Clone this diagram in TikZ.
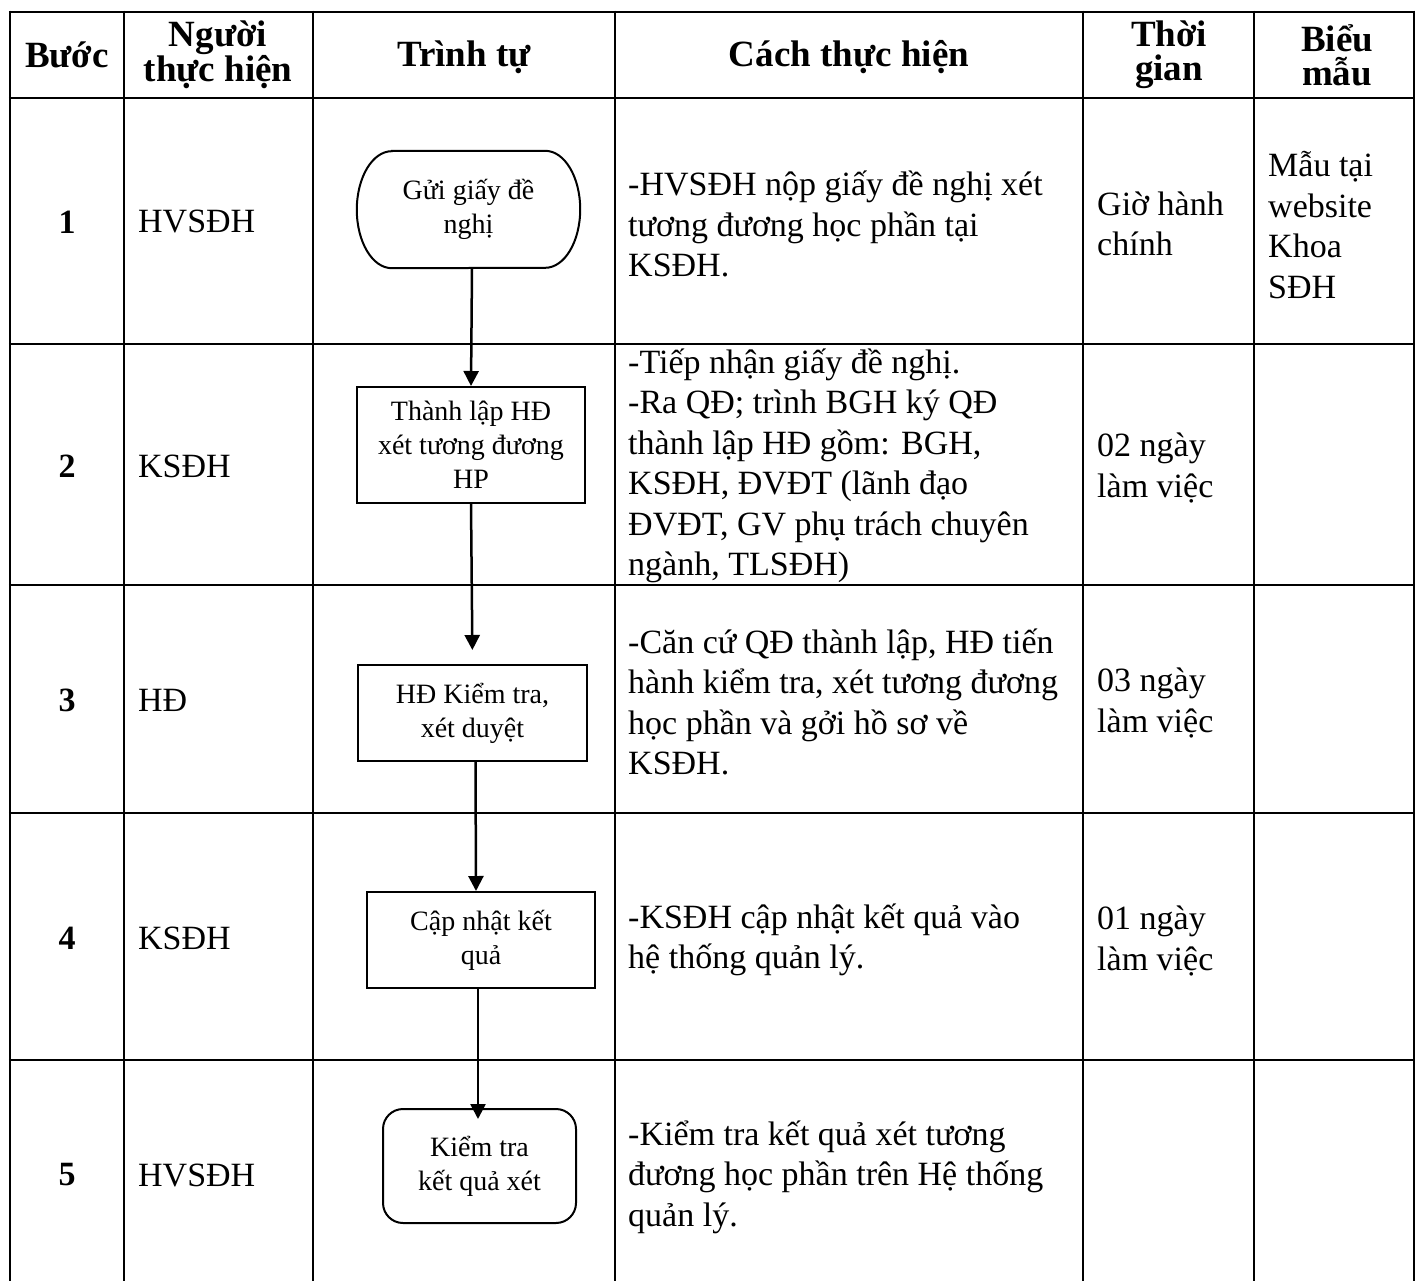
\documentclass[tikz,border=0pt]{standalone}
\usepackage{fontspec}
\setmainfont{Liberation Serif}
\usetikzlibrary{arrows.meta}
\newcommand{\bodyfnt}{\fontsize{34}{40.5}\selectfont}
\newcommand{\hdrfnt}{\fontsize{37}{34}\selectfont\bfseries}
\newcommand{\boxfnt}{\fontsize{28}{34}\selectfont}
\tikzset{
  grid/.style={line width=2.5pt},
  cell/.style={anchor=west, align=left, font=\bodyfnt, inner sep=0pt},
  num/.style={align=center, font=\bodyfnt\bfseries, inner sep=0pt},
  hdr/.style={align=center, font=\hdrfnt, inner sep=0pt},
  stepbox/.style={draw, line width=2pt, align=center, font=\boxfnt, inner sep=0pt},
  flow/.style={line width=2.5pt, -{Triangle[length=15pt,width=15pt]}}
}
\begin{document}
\begin{tikzpicture}[x=1pt,y=-1pt]
\useasboundingbox (0,0) rectangle (1415,1281);
% grid
\foreach \yy in {12,98,344,585,813,1060}{\draw[grid] (8.75,\yy) -- (1415,\yy);}
\foreach \xx in {10,124,313,615,1083,1254,1414}{\draw[grid] (\xx,10.75) -- (\xx,1281);}
% header
\node[hdr] (h1) at (67,55) {Bước};
\node[hdr] (h2) at (218,55) {Người\\thực hiện};
\node[hdr] (h3) at (464,57) {Trình tự};
\node[hdr] (h4) at (849,57) {Cách thực hiện};
\node[hdr] (h5) at (1169,55) {Thời\\gian};
\node[hdr] (h6) at (1337,55) {Biểu\\mẫu};
% step numbers
\node[num] (n1) at (67,222) {1};
\node[num] (n2) at (67,466) {2};
\node[num] (n3) at (67,700) {3};
\node[num] (n4) at (67,938) {4};
\node[num] (n5) at (67,1175) {5};
% actors
\node[cell] (p1) at (138,222) {HVSĐH};
\node[cell] (p2) at (138,466) {KSĐH};
\node[cell] (p3) at (138,700) {HĐ};
\node[cell] (p4) at (138,938) {KSĐH};
\node[cell] (p5) at (138,1175) {HVSĐH};
% how
\node[cell] (c1) at (628,224) {-HVSĐH nộp giấy đề nghị xét\\tương đương học phần tại\\KSĐH.};
\node[cell] (c2) at (628,466) {-Tiếp nhận giấy đề nghị.\\-Ra QĐ; trình BGH ký QĐ\\thành lập HĐ gồm: BGH,\\KSĐH, ĐVĐT (lãnh đạo\\ĐVĐT, GV phụ trách chuyên\\ngành, TLSĐH)};
\node[cell] (c3) at (628,702) {-Căn cứ QĐ thành lập, HĐ tiến\\hành kiểm tra, xét tương đương\\học phần và gởi hồ sơ về\\KSĐH.};
\node[cell] (c4) at (628,940) {-KSĐH cập nhật kết quả vào\\hệ thống quản lý.};
\node[cell] (c5) at (628,1177) {-Kiểm tra kết quả xét tương\\đương học phần trên Hệ thống\\quản lý.};
% time
\node[cell] (t1) at (1097,224) {Giờ hành\\chính};
\node[cell] (t2) at (1097,468) {02 ngày\\làm việc};
\node[cell] (t3) at (1097,703) {03 ngày\\làm việc};
\node[cell] (t4) at (1097,941) {01 ngày\\làm việc};
% forms
\node[cell] (f1) at (1268,225) {Mẫu tại\\website\\Khoa\\SĐH};
% flow shapes
\node[font=\boxfnt, align=center, inner sep=0pt, minimum width=223pt, minimum height=117pt] (s1) at (468.5,209.5) {Gửi giấy đề\\nghị};
\draw[line width=2pt] ([xshift=35pt]s1.north west) -- ([xshift=-35pt]s1.north east)
  arc[start angle=90, end angle=-90, x radius=35pt, y radius=58.5pt]
  -- ([xshift=35pt]s1.south west)
  arc[start angle=270, end angle=90, x radius=35pt, y radius=58.5pt] -- cycle;
\node[stepbox, minimum width=228pt, minimum height=116pt] (s2) at (471,445) {Thành lập HĐ\\xét tương đương\\HP};
\node[stepbox, minimum width=229pt, minimum height=96pt] (s3) at (472.5,713) {HĐ Kiểm tra,\\xét duyệt};
\node[stepbox, minimum width=228pt, minimum height=96pt] (s4) at (481,940) {Cập nhật kết\\quả};
\node[stepbox, rounded corners=20pt, minimum width=193pt, minimum height=114pt] (s5) at (479.5,1166) {Kiểm tra\\kết quả xét};
% connectors
\draw[flow] ([xshift=3.5pt]s1.south) -- (s2.north);
\draw[flow, shorten >=14pt] (s2.south) -- (s3.north);
\draw[flow] ([xshift=3pt]s3.south) -- ([xshift=-5pt]s4.north);
\draw[flow, shorten >=-11pt] ([xshift=-3pt]s4.south) -- ([xshift=-1.5pt]s5.north);
\end{tikzpicture}
\end{document}
